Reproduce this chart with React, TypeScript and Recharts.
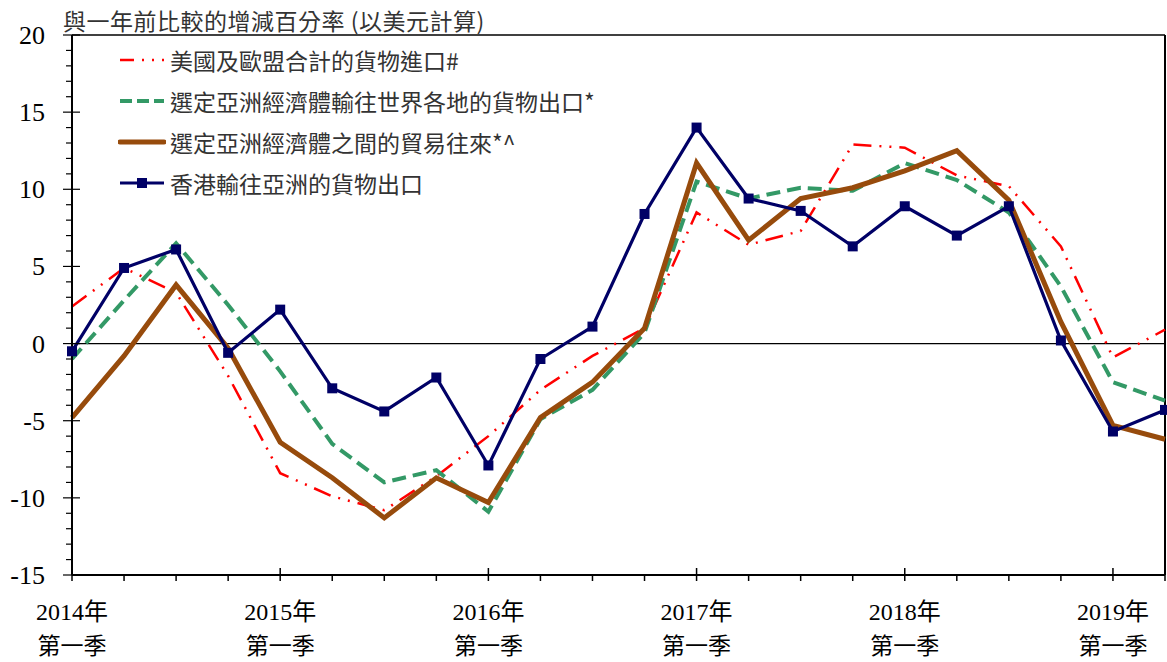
import { Line, LineChart, ReferenceLine, XAxis, YAxis } from "recharts";

// 2014Q1 .. 2019Q2
const QUARTERS = [
  "2014Q1", "2014Q2", "2014Q3", "2014Q4",
  "2015Q1", "2015Q2", "2015Q3", "2015Q4",
  "2016Q1", "2016Q2", "2016Q3", "2016Q4",
  "2017Q1", "2017Q2", "2017Q3", "2017Q4",
  "2018Q1", "2018Q2", "2018Q3", "2018Q4",
  "2019Q1", "2019Q2",
];
const YEAR_LABELS = ["2014年", "2015年", "2016年", "2017年", "2018年", "2019年"];
const SEASON_LABEL = "第一季";

const US_EU_IMPORTS = [
  2.4, 4.9, 3.3, -2.1, -8.4, -9.9, -10.8, -8.6, -6.0, -3.0, -0.8, 1.0,
  8.5, 6.4, 7.3, 12.9, 12.7, 10.9, 10.2, 6.3, -0.9, 0.9,
];
const ASIA_EXPORTS_WORLD = [
  -1.0, 2.8, 6.5, 2.5, -1.8, -6.5, -9.0, -8.2, -10.9, -4.9, -3.0, 0.7,
  10.5, 9.4, 10.1, 9.9, 11.7, 10.6, 8.5, 3.7, -2.5, -3.7,
];
const INTRA_ASIA_TRADE = [
  -4.8, -0.8, 3.8, -0.3, -6.4, -8.7, -11.3, -8.7, -10.3, -4.8, -2.5, 1.0,
  11.7, 6.7, 9.4, 10.1, 11.2, 12.5, 9.3, 1.4, -5.3, -6.2,
];
const HK_EXPORTS_ASIA = [
  -0.5, 4.9, 6.1, -0.6, 2.2, -2.9, -4.4, -2.2, -7.9, -1.0, 1.1, 8.4,
  14.0, 9.4, 8.6, 6.3, 8.9, 7.0, 8.9, 0.2, -5.7, -4.3,
];

const SERIES_NAMES = [
  "美國及歐盟合計的貨物進口#",
  "選定亞洲經濟體輸往世界各地的貨物出口*",
  "選定亞洲經濟體之間的貿易往來*^",
  "香港輸往亞洲的貨物出口",
];
const TITLE = "與一年前比較的增減百分率 (以美元計算)";

const RED = "#ff0000";
const GREEN = "#339966";
const BROWN = "#974b0c";
const NAVY = "#000066";

const SERIF = '"Liberation Serif", "Noto Sans CJK TC", serif';
const CJK = '"Noto Sans CJK TC", "Liberation Serif", sans-serif';

const data = QUARTERS.map((q, i) => ({
  i,
  q,
  red: US_EU_IMPORTS[i],
  green: ASIA_EXPORTS_WORLD[i],
  brown: INTRA_ASIA_TRADE[i],
  navy: HK_EXPORTS_ASIA[i],
}));

const X_TICKS = QUARTERS.map((_, i) => i);
const Y_TICKS = Array.from({ length: 36 }, (_, i) => i - 15);

function QuarterTick({ x, y, payload }: any) {
  const i = payload.value as number;
  const isYear = i % 4 === 0;
  return (
    <g>
      <line x1={x} x2={x} y1={isYear ? y - 7 : y} y2={y + 6} stroke="#000" strokeWidth={1.5} />
      {isYear && (
        <>
          <text x={x} y={y + 45} textAnchor="middle" fontSize={24} fontFamily={SERIF} fill="#000">
            {YEAR_LABELS[i / 4]}
          </text>
          <text x={x} y={y + 79} textAnchor="middle" fontSize={23} fontFamily={CJK} fill="#000">
            {SEASON_LABEL}
          </text>
        </>
      )}
    </g>
  );
}

function ValueTick({ x, y, payload }: any) {
  const v = payload.value as number;
  const major = v % 5 === 0;
  return (
    <g>
      <line x1={major ? x - 9 : x - 6} x2={major ? x + 8 : x} y1={y} y2={y} stroke="#000" strokeWidth={1.2} />
      {major && (
        <text x={x - 27} y={y + 9} textAnchor="end" fontSize={26} fontFamily={SERIF} fill="#000">
          {v}
        </text>
      )}
    </g>
  );
}

function SquareDot({ cx, cy, index }: any) {
  return <rect key={index} x={cx - 5} y={cy - 5} width={10} height={10} fill={NAVY} />;
}

function LegendSample({ kind }: { kind: number }) {
  return (
    <svg width={48} height={14} style={{ display: "block" }}>
      {kind === 0 && <line x1={2} x2={46} y1={7} y2={7} stroke={RED} strokeWidth={2.5} strokeDasharray="14 8 2 8 2 8" />}
      {kind === 1 && <line x1={2} x2={46} y1={7} y2={7} stroke={GREEN} strokeWidth={4} strokeDasharray="12 5" />}
      {kind === 2 && <line x1={2} x2={46} y1={7} y2={7} stroke={BROWN} strokeWidth={5} strokeLinecap="round" />}
      {kind === 3 && (
        <>
          <line x1={2} x2={46} y1={7} y2={7} stroke={NAVY} strokeWidth={3} />
          <rect x={19} y={2} width={10} height={10} fill={NAVY} />
        </>
      )}
    </svg>
  );
}

export default function App() {
  return (
    <div style={{ position: "absolute", left: 0, top: 0, width: 1167, height: 662, background: "#fff" }}>
      <LineChart width={1167} height={662} data={data} margin={{ top: 35, right: 2, bottom: 0, left: 0 }}>
        <XAxis
          dataKey="i"
          type="number"
          domain={[0, 21]}
          ticks={X_TICKS}
          interval={0}
          tick={<QuarterTick />}
          tickLine={false}
          tickSize={0}
          tickMargin={0}
          height={87}
          axisLine={{ stroke: "#000", strokeWidth: 2 }}
        />
        <YAxis
          type="number"
          domain={[-15, 20]}
          ticks={Y_TICKS}
          interval={0}
          tick={<ValueTick />}
          tickLine={false}
          tickSize={0}
          tickMargin={0}
          width={72}
          axisLine={{ stroke: "#000", strokeWidth: 2 }}
        />
        <ReferenceLine y={20} stroke="#000" strokeWidth={1.5} ifOverflow="visible" />
        <ReferenceLine x={21} stroke="#000" strokeWidth={2} ifOverflow="visible" />
        <ReferenceLine y={0} stroke="#000" strokeWidth={1.2} />
        <Line
          dataKey="red"
          stroke={RED}
          strokeWidth={2.5}
          strokeDasharray="18 8 2 8 2 8"
          dot={false}
          isAnimationActive={false}
        />
        <Line
          dataKey="green"
          stroke={GREEN}
          strokeWidth={4}
          strokeDasharray="14 7"
          dot={false}
          isAnimationActive={false}
        />
        <Line dataKey="brown" stroke={BROWN} strokeWidth={5} dot={false} isAnimationActive={false} />
        <Line dataKey="navy" stroke={NAVY} strokeWidth={3.2} dot={<SquareDot />} isAnimationActive={false} />
      </LineChart>

      <div
        style={{
          position: "absolute",
          left: 63,
          top: 5,
          fontFamily: CJK,
          fontSize: 23,
          letterSpacing: 0.5,
          color: "#333",
          whiteSpace: "nowrap",
          lineHeight: "30px",
        }}
      >
        {TITLE}
      </div>

      <div style={{ position: "absolute", left: 118, top: 39 }}>
        {SERIES_NAMES.map((name, k) => (
          <div
            key={name}
            style={{ display: "flex", alignItems: "center", height: 41, fontFamily: CJK, fontSize: 23, color: "#333", whiteSpace: "nowrap" }}
          >
            <LegendSample kind={k} />
            <span style={{ marginLeft: 4, lineHeight: "30px" }}>{name}</span>
          </div>
        ))}
      </div>
    </div>
  );
}
